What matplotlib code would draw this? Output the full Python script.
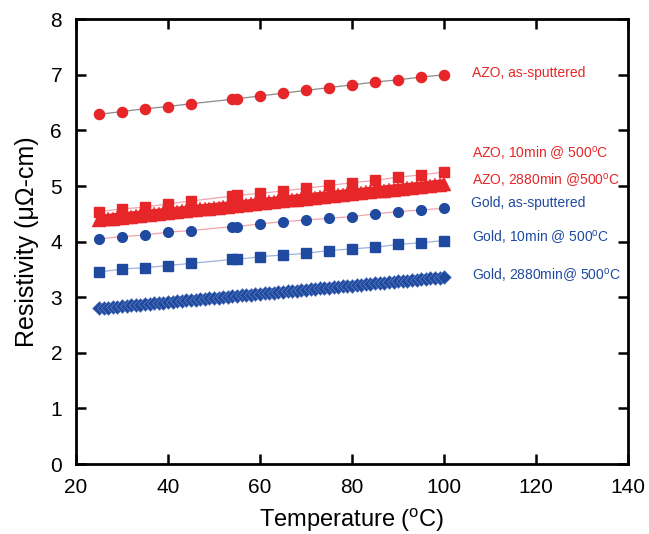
import matplotlib

matplotlib.use("Agg")
import matplotlib.pyplot as plt

plt.rcParams["font.family"] = ["Liberation Sans", "DejaVu Sans"]
plt.rcParams["mathtext.fontset"] = "custom"
plt.rcParams["mathtext.rm"] = "Liberation Sans"
plt.rcParams["mathtext.it"] = "Liberation Sans:italic"

# temperatures of the sparse runs (deg C)
temp = [25, 30, 35, 40, 45, 54, 55, 60, 65, 70, 75, 80, 85, 90, 95, 100]

azo_as = [6.29, 6.34, 6.39, 6.43, 6.48, 6.56, 6.57, 6.62, 6.67, 6.72, 6.77, 6.82, 6.87, 6.91, 6.96, 7.00]
azo_10 = [4.54, 4.59, 4.62, 4.68, 4.73, 4.82, 4.83, 4.87, 4.91, 4.96, 5.01, 5.06, 5.10, 5.16, 5.20, 5.25]
gold_as = [4.05, 4.09, 4.12, 4.17, 4.20, 4.27, 4.27, 4.32, 4.36, 4.39, 4.42, 4.45, 4.50, 4.54, 4.57, 4.60]
gold_10 = [3.45, 3.51, 3.53, 3.57, 3.61, 3.68, 3.68, 3.73, 3.76, 3.79, 3.84, 3.87, 3.90, 3.95, 3.98, 4.02]

# dense runs, read every 1 deg C
temp_dense = [
    25, 26, 27, 28, 29, 30, 31, 32, 33, 34, 35, 36, 37, 38, 39, 40, 41, 42, 43, 44,
    45, 46, 47, 48, 49, 50, 51, 52, 53, 54, 55, 56, 57, 58, 59, 60, 61, 62, 63, 64,
    65, 66, 67, 68, 69, 70, 71, 72, 73, 74, 75, 76, 77, 78, 79, 80, 81, 82, 83, 84,
    85, 86, 87, 88, 89, 90, 91, 92, 93, 94, 95, 96, 97, 98, 99, 100,
]
azo_2880 = [
    4.390, 4.399, 4.407, 4.416, 4.424, 4.433, 4.441, 4.450, 4.458, 4.467,
    4.475, 4.484, 4.492, 4.501, 4.509, 4.518, 4.527, 4.535, 4.544, 4.552,
    4.561, 4.569, 4.578, 4.586, 4.595, 4.603, 4.612, 4.620, 4.629, 4.637,
    4.646, 4.655, 4.663, 4.672, 4.680, 4.689, 4.697, 4.706, 4.714, 4.723,
    4.731, 4.740, 4.748, 4.757, 4.765, 4.774, 4.783, 4.791, 4.800, 4.808,
    4.817, 4.825, 4.834, 4.842, 4.851, 4.859, 4.868, 4.876, 4.885, 4.893,
    4.902, 4.911, 4.919, 4.928, 4.936, 4.945, 4.953, 4.962, 4.970, 4.979,
    4.987, 4.996, 5.004, 5.013, 5.021, 5.030,
]
gold_2880 = [
    2.800, 2.807, 2.815, 2.822, 2.830, 2.837, 2.845, 2.852, 2.860, 2.867,
    2.875, 2.882, 2.890, 2.897, 2.905, 2.912, 2.920, 2.927, 2.934, 2.942,
    2.949, 2.957, 2.964, 2.972, 2.979, 2.987, 2.994, 3.002, 3.009, 3.017,
    3.024, 3.032, 3.039, 3.047, 3.054, 3.061, 3.069, 3.076, 3.084, 3.091,
    3.099, 3.106, 3.114, 3.121, 3.129, 3.136, 3.144, 3.151, 3.159, 3.166,
    3.174, 3.181, 3.188, 3.196, 3.203, 3.211, 3.218, 3.226, 3.233, 3.241,
    3.248, 3.256, 3.263, 3.271, 3.278, 3.286, 3.293, 3.300, 3.308, 3.315,
    3.323, 3.330, 3.338, 3.345, 3.353, 3.360,
]

red = "#e62628"
blue = "#1f4aa0"

fig = plt.figure(figsize=(6.49, 5.34), dpi=100)
ax = fig.add_axes([0.117, 0.131, 0.851, 0.833])

ax.plot(temp, azo_as, color="#8a8a8a", lw=0.9, marker="o", ms=7.3, mfc=red, mec=red, zorder=3)
ax.plot(temp, azo_10, color="#f2a3ad", lw=0.9, marker="s", ms=7.3, mfc=red, mec=red, zorder=3)
# dense runs: thick line under the markers so the band reads as solid
ax.plot(temp_dense, azo_2880, color=red, lw=7.5, solid_capstyle="butt", zorder=2)
ax.plot(temp_dense, azo_2880, ls="none", marker="^", ms=10.5, mfc=red, mec=red, mew=0.3, zorder=2)
ax.plot(temp, gold_as, color="#f2a3ad", lw=0.9, marker="o", ms=7, mfc=blue, mec=blue, zorder=3)
ax.plot(temp, gold_10, color="#9fb2dc", lw=0.9, marker="s", ms=7.3, mfc=blue, mec=blue, zorder=3)
ax.plot(temp_dense, gold_2880, color=blue, lw=6.5, solid_capstyle="butt", zorder=2)
ax.plot(temp_dense, gold_2880, ls="none", marker="D", ms=7.2, mfc=blue, mec="#6f8bc8", mew=0.4, zorder=2)

lab_kw = dict(fontsize=10, ha="left", va="center")
ax.text(106, 7.03, "AZO, as-sputtered", color=red, **lab_kw)
ax.text(106, 5.59, "AZO, 10min @ 500$^{\\mathrm{o}}$C", color=red, **lab_kw)
ax.text(106, 5.10, "AZO, 2880min @500$^{\\mathrm{o}}$C", color=red, **lab_kw)
ax.text(105.8, 4.69, "Gold, as-sputtered", color=blue, **lab_kw)
ax.text(106, 4.09, "Gold, 10min @ 500$^{\\mathrm{o}}$C", color=blue, **lab_kw)
ax.text(106, 3.40, "Gold, 2880min@ 500$^{\\mathrm{o}}$C", color=blue, **lab_kw)

ax.set_xlim(20, 140)
ax.set_ylim(0, 8)
ax.set_xticks([20, 40, 60, 80, 100, 120, 140])
ax.set_yticks([0, 1, 2, 3, 4, 5, 6, 7, 8])
ax.tick_params(direction="in", length=7.5, width=1.8, labelsize=15, top=True, right=True, pad=10)
for s in ax.spines.values():
    s.set_linewidth(2)

ax.set_xlabel("Temperature ($^{\\mathrm{o}}$C)", fontsize=17, labelpad=7)
ax.set_ylabel("Resistivity (\u03bc\u03a9-cm)", fontsize=18, labelpad=8)

fig.savefig("out.png", dpi=100)
